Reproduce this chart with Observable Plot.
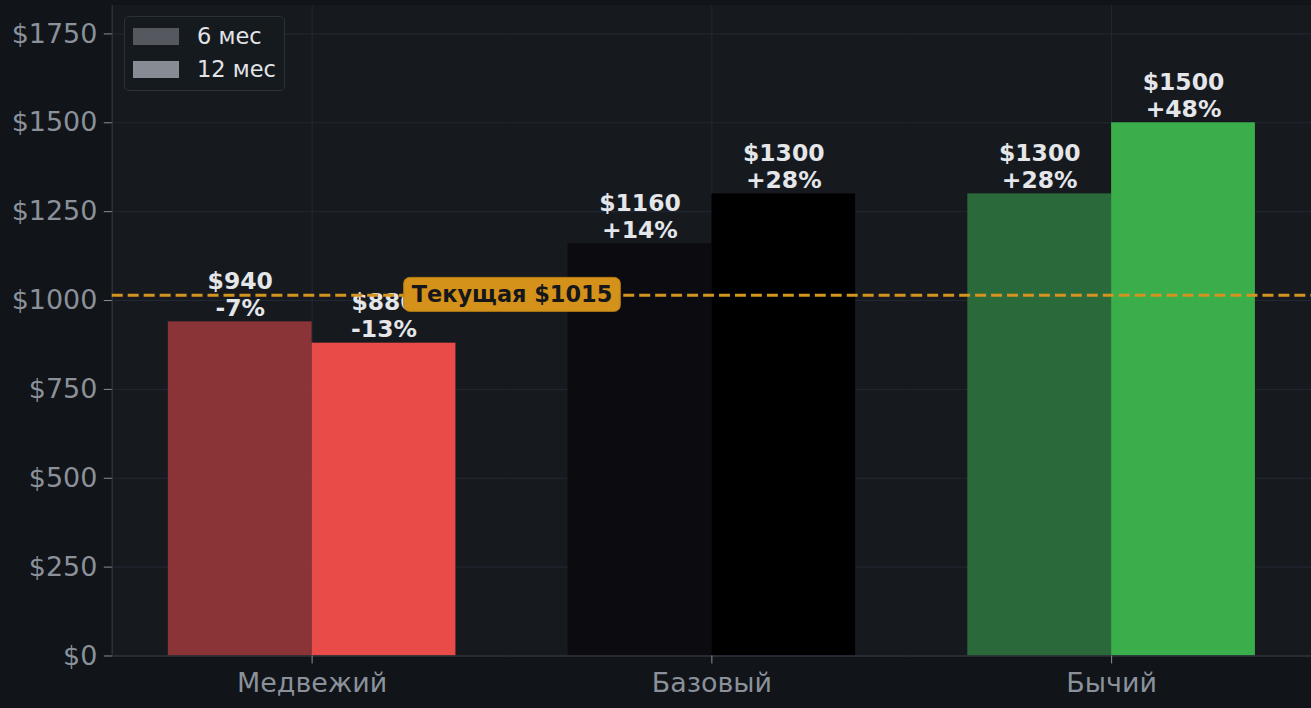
<!DOCTYPE html>
<html>
<head>
<meta charset="utf-8">
<script src="https://cdn.jsdelivr.net/npm/d3@7"></script>
<script src="https://cdn.jsdelivr.net/npm/@observablehq/plot@0.6"></script>
<style>
  html, body { margin: 0; padding: 0; background: #111418; }
  #wrap { position: relative; width: 1311px; height: 708px; overflow: hidden; }
  #legend { position: absolute; left: 124px; top: 16px; width: 161px; height: 75px;
    border: 1px solid #2b303a; border-radius: 5px; background: #151a1f; box-sizing: border-box;
    font-family: "DejaVu Sans", sans-serif; font-size: 22.5px; color: #e2e4e8; }
  .item { position: absolute; left: 8px; display: flex; align-items: center; line-height: 1; }
  .sw { width: 46px; height: 17px; margin-right: 18px; }
</style>
</head>
<body>
<div id="wrap"></div>
<script>
const groups = ["Медвежий", "Базовый", "Бычий"];
const horizons = ["6 мес", "12 мес"];
const values6 = [940, 1160, 1300];
const values12 = [880, 1300, 1500];
const change6 = ["-7%", "+14%", "+28%"];
const change12 = ["-13%", "+28%", "+48%"];
const colors6 = ["#8a3437", "#0c0c10", "#2a6a3a"];
const colors12 = ["#e94b48", "#000000", "#3aae4b"];
const legendColors = ["#56585f", "#878c94"];
const currentPrice = 1015;
const currentLabel = "Текущая $1015";
const yTicks = [0, 250, 500, 750, 1000, 1250, 1500, 1750];

const rows = [];
groups.forEach((g, i) => {
  rows.push({group: g, horizon: horizons[0], value: values6[i], label: "$" + values6[i] + "\n" + change6[i], color: colors6[i]});
  rows.push({group: g, horizon: horizons[1], value: values12[i], label: "$" + values12[i] + "\n" + change12[i], color: colors12[i]});
});

const gridColor = "#232834";
const spineColor = "#2c313a";
const tickColor = "#8a919b";

const chart = Plot.plot({
  width: 1314,
  height: 708,
  marginLeft: 112,
  marginRight: 0,
  marginTop: 5,
  marginBottom: 51,
  style: {background: "transparent", color: tickColor, fontFamily: "DejaVu Sans, sans-serif", fontSize: "27px", overflow: "visible"},
  fx: {domain: groups, padding: 0, round: false, label: null, axis: null},
  x: {domain: horizons, paddingInner: 0, paddingOuter: 0.39, round: false, axis: null},
  y: {domain: [0, 1830], label: null, axis: null},
  marks: [
    Plot.frame({fill: "#161a1f", stroke: null, inset: -0.5}),
    Plot.gridY(yTicks, {stroke: gridColor, strokeOpacity: 1, strokeWidth: 1}),
    Plot.gridFx({stroke: gridColor, strokeOpacity: 1, strokeWidth: 1}),
    Plot.barY(rows, {fx: "group", x: "horizon", y: "value", fill: "color", inset: 0}),
    Plot.ruleY([0], {stroke: spineColor, strokeWidth: 1.5}),
    Plot.frame({anchor: "left", stroke: spineColor, strokeWidth: 1.5, facetAnchor: "left"}),
    Plot.axisY({ticks: yTicks, tickFormat: d => "$" + d, tickSize: 8, tickPadding: 7, fontSize: 27, stroke: tickColor, fill: tickColor, label: null, facetAnchor: "left"}),
    Plot.axisFx({anchor: "bottom", tickSize: 8, tickPadding: 9, fontSize: 27, stroke: tickColor, fill: tickColor, label: null}),
    Plot.text(rows, {fx: "group", x: "horizon", y: "value", text: "label", lineAnchor: "bottom", lineHeight: 1.15, dy: -6, fill: "#e4e6ea", fontWeight: "bold", fontSize: 23.5}),
    Plot.ruleY([currentPrice], {stroke: "#d4941f", strokeWidth: 3, strokeDasharray: "11,5"}),
    Plot.text([currentPrice], {fx: () => groups[0], y: d => d, text: () => currentLabel, frameAnchor: "right", textAnchor: "middle", fill: "#15171a", fontWeight: "bold", fontSize: 22.5})
  ]
});

document.getElementById("wrap").appendChild(chart);

// rounded badge behind the current price label
Array.from(chart.querySelectorAll("text")).filter(t => t.textContent === currentLabel).forEach(t => {
  const bb = t.getBBox();
  const r = document.createElementNS("http://www.w3.org/2000/svg", "rect");
  r.setAttribute("x", bb.x - 8);
  r.setAttribute("y", bb.y - 4);
  r.setAttribute("width", bb.width + 16);
  r.setAttribute("height", bb.height + 8);
  r.setAttribute("rx", 6);
  r.setAttribute("fill", "#d4921a");
  r.setAttribute("stroke", "#b87c12");
  r.setAttribute("stroke-width", 1);
  if (t.getAttribute("transform")) r.setAttribute("transform", t.getAttribute("transform"));
  t.parentNode.insertBefore(r, t);
});

// legend
const legend = document.createElement("div");
legend.id = "legend";
horizons.forEach((h, i) => {
  const it = document.createElement("div");
  it.className = "item";
  it.style.top = (i === 0 ? 8 : 41) + "px";
  const sw = document.createElement("div");
  sw.className = "sw";
  sw.style.background = legendColors[i];
  const tx = document.createElement("span");
  tx.textContent = h;
  it.appendChild(sw);
  it.appendChild(tx);
  legend.appendChild(it);
});
document.getElementById("wrap").appendChild(legend);
</script>
</body>
</html>
